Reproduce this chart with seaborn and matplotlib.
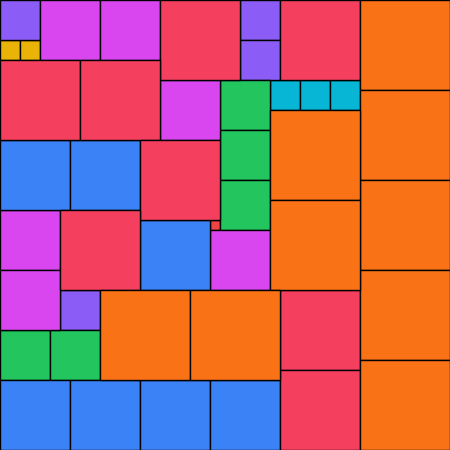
import matplotlib
matplotlib.use("Agg")
import matplotlib.pyplot as plt
import seaborn as sns
import pandas as pd

sns.set_theme(style="white")

# square side (grid units of 10 px) and top-left positions
sizes = [1,
         2, 2,
         3, 3, 3,
         4, 4, 4, 4,
         5, 5, 5, 5, 5,
         6, 6, 6, 6, 6, 6,
         7, 7, 7, 7, 7, 7, 7,
         8, 8, 8, 8, 8, 8, 8, 8,
         9, 9, 9, 9, 9, 9, 9, 9, 9]
xs = [21,
      0, 2,
      27, 30, 33,
      0, 24, 24, 6,
      22, 22, 22, 0, 5,
      4, 10, 16, 0, 0, 21,
      0, 7, 14, 0, 7, 14, 21,
      16, 28, 0, 8, 14, 6, 28, 28,
      36, 36, 36, 36, 36, 27, 27, 10, 19]
ys = [22,
      4, 4,
      8, 8, 8,
      0, 0, 4, 29,
      8, 13, 18, 33, 33,
      0, 0, 8, 21, 27, 23,
      14, 14, 22, 38, 38, 38, 38,
      0, 0, 6, 6, 14, 21, 29, 37,
      0, 9, 18, 27, 36, 11, 20, 29, 29]

palette = {1: "#ef4444", 2: "#eab308", 3: "#06b6d4", 4: "#8b5cf6", 5: "#22c55e",
           6: "#d946ef", 7: "#3b82f6", 8: "#f43f5e", 9: "#f97316"}

df = pd.DataFrame({"size": sizes, "x": xs, "y": ys})

fig = plt.figure(figsize=(4.5, 4.5), dpi=100)
ax = fig.add_axes([0, 0, 1, 1])
ax.bar(df["x"], df["size"], width=df["size"], bottom=df["y"], align="edge",
       color=[palette[s] for s in df["size"]], edgecolor="black", linewidth=1.0)
ax.set_xlim(0, 45)
ax.set_ylim(45, 0)
ax.axis("off")
fig.savefig("out.png", dpi=100)
